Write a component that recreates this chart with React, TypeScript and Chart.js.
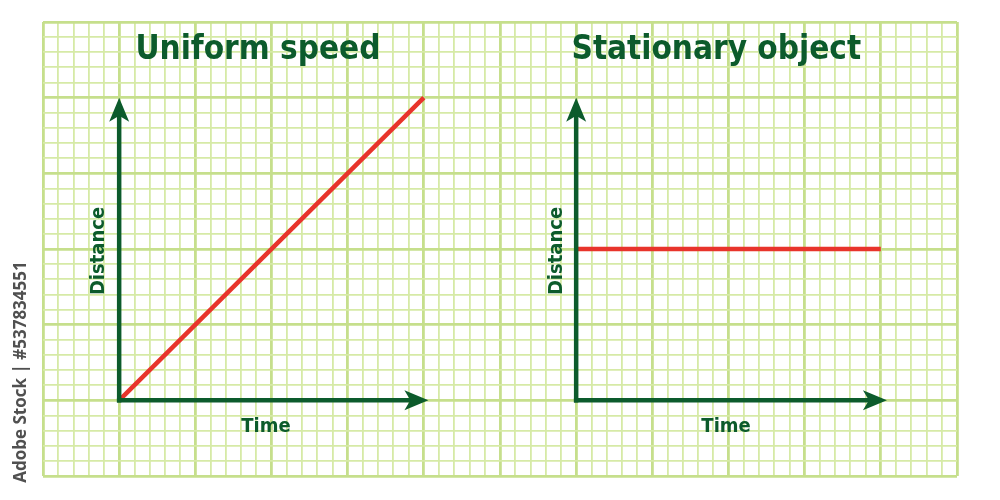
import React, { useEffect, useRef } from "react";
import { Chart, registerables } from "chart.js";

Chart.register(...registerables);

// Grid paper dimensions (in grid cells)
const gridColumns = 60;
const gridRows = 30;
const majorEvery = 5;

// Panel 1: uniform speed (distance grows linearly with time)
const uniformTime = [5, 25];
const uniformDistance = [5, 25];

// Panel 2: stationary object (distance constant)
const stationaryTime = [35, 55];
const stationaryDistance = [15, 15];

// Axes (origin -> arrow tip) for each panel
const leftYAxisX = [5, 5];
const leftYAxisY = [5, 25];
const leftXAxisX = [5, 25.3];
const leftXAxisY = [5, 5];
const rightYAxisX = [35, 35];
const rightYAxisY = [5, 25];
const rightXAxisX = [35, 55.4];
const rightXAxisY = [5, 5];

const titles = ["Uniform speed", "Stationary object"];
const yLabel = "Distance";
const xLabel = "Time";
const watermark = "Adobe Stock | #537834551";

const DARK = "#0c5b2c";
const RED = "#e8342b";
const MINOR = "#d6eaa6";
const MAJOR = "#c6df8c";

const pts = (xs: number[], ys: number[]) => xs.map((x, i) => ({ x, y: ys[i] }));

const arrowPlugin = {
  id: "arrows",
  afterDatasetsDraw(chart: any) {
    const ctx = chart.ctx;
    const xs = chart.scales.x;
    const ys = chart.scales.y;
    chart.data.datasets.forEach((ds: any) => {
      if (!ds.arrow) return;
      const a = ds.data[0];
      const b = ds.data[ds.data.length - 1];
      const x0 = xs.getPixelForValue(a.x);
      const y0 = ys.getPixelForValue(a.y);
      const x1 = xs.getPixelForValue(b.x);
      const y1 = ys.getPixelForValue(b.y);
      const len = Math.hypot(x1 - x0, y1 - y0);
      const ux = (x1 - x0) / len;
      const uy = (y1 - y0) / len;
      const headLen = 24;
      const headHalf = 10;
      const notch = 6;
      ctx.save();
      ctx.strokeStyle = DARK;
      ctx.fillStyle = DARK;
      ctx.lineWidth = 4.5;
      ctx.lineCap = "square";
      ctx.beginPath();
      ctx.moveTo(x0, y0);
      ctx.lineTo(x1 - ux * (headLen - notch), y1 - uy * (headLen - notch));
      ctx.stroke();
      const bx = x1 - ux * headLen;
      const by = y1 - uy * headLen;
      ctx.beginPath();
      ctx.moveTo(x1, y1);
      ctx.lineTo(bx - uy * headHalf, by + ux * headHalf);
      ctx.lineTo(x1 - ux * (headLen - notch), y1 - uy * (headLen - notch));
      ctx.lineTo(bx + uy * headHalf, by - ux * headHalf);
      ctx.closePath();
      ctx.fill();
      ctx.restore();
    });
  },
};

const textPlugin = {
  id: "texts",
  afterDraw(chart: any) {
    const ctx = chart.ctx;
    const xs = chart.scales.x;
    const ys = chart.scales.y;
    const px = (v: number) => xs.getPixelForValue(v);
    const py = (v: number) => ys.getPixelForValue(v);
    ctx.save();
    ctx.fillStyle = DARK;
    ctx.textAlign = "center";
    ctx.textBaseline = "alphabetic";
    ctx.font = 'bold 33px "DejaVu Sans Condensed", "DejaVu Sans", sans-serif';
    ctx.fillText(titles[0], px(14.11), py(27.56));
    ctx.fillText(titles[1], px(44.2), py(27.56));

    ctx.font = 'bold 20px "DejaVu Sans Condensed", "DejaVu Sans", sans-serif';
    ctx.fillText(xLabel, px(14.64), py(2.91));
    ctx.fillText(xLabel, px(44.84), py(2.91));

    ctx.textBaseline = "middle";
    [3.61, 33.68].forEach((xv) => {
      ctx.save();
      ctx.translate(px(xv), py(14.87));
      ctx.rotate(-Math.PI / 2);
      ctx.fillText(yLabel, 0, 1);
      ctx.restore();
    });

    // vertical stock watermark text at left edge
    ctx.fillStyle = "#505050";
    ctx.font = 'bold 17px "Open Sans", sans-serif';
    ctx.save();
    ctx.translate(21, 372);
    ctx.rotate(-Math.PI / 2);
    ctx.fillText(watermark, 0, 0);
    ctx.restore();
    ctx.restore();
  },
};

export default function App() {
  const ref = useRef<HTMLCanvasElement | null>(null);
  useEffect(() => {
    if (!ref.current) return;
    const gridOpts = {
      color: (c: any) => (c.tick && c.tick.value % majorEvery === 0 ? MAJOR : MINOR),
      lineWidth: (c: any) => (c.tick && c.tick.value % majorEvery === 0 ? 2.8 : 1.8),
      drawTicks: false,
    };
    const chart = new Chart(ref.current, {
      type: "line",
      data: {
        datasets: [
          { data: pts(uniformTime, uniformDistance), borderColor: RED, borderWidth: 4.5, pointRadius: 0, borderCapStyle: "butt" },
          { data: pts(stationaryTime, stationaryDistance), borderColor: RED, borderWidth: 4.5, pointRadius: 0, borderCapStyle: "butt" },
          { data: pts(leftYAxisX, leftYAxisY), showLine: false, pointRadius: 0, arrow: true } as any,
          { data: pts(leftXAxisX, leftXAxisY), showLine: false, pointRadius: 0, arrow: true } as any,
          { data: pts(rightYAxisX, rightYAxisY), showLine: false, pointRadius: 0, arrow: true } as any,
          { data: pts(rightXAxisX, rightXAxisY), showLine: false, pointRadius: 0, arrow: true } as any,
        ],
      },
      options: {
        responsive: false,
        animation: false,
        events: [],
        layout: { padding: { left: 43, top: 22, right: 43, bottom: 24 } },
        plugins: { legend: { display: false }, tooltip: { enabled: false } },
        scales: {
          x: {
            type: "linear",
            min: 0,
            max: gridColumns,
            ticks: { display: false, stepSize: 1, autoSkip: false, maxTicksLimit: 200 },
            grid: gridOpts,
            border: { display: false },
          },
          y: {
            type: "linear",
            min: 0,
            max: gridRows,
            ticks: { display: false, stepSize: 1, autoSkip: false, maxTicksLimit: 200 },
            grid: gridOpts,
            border: { display: false },
          },
        },
      },
      plugins: [arrowPlugin, textPlugin],
    });
    return () => chart.destroy();
  }, []);
  return (
    <div style={{ position: "fixed", left: 0, top: 0, width: 1000, height: 500, background: "#fff" }}>
      <canvas ref={ref} width={1000} height={500} style={{ display: "block" }} />
    </div>
  );
}
